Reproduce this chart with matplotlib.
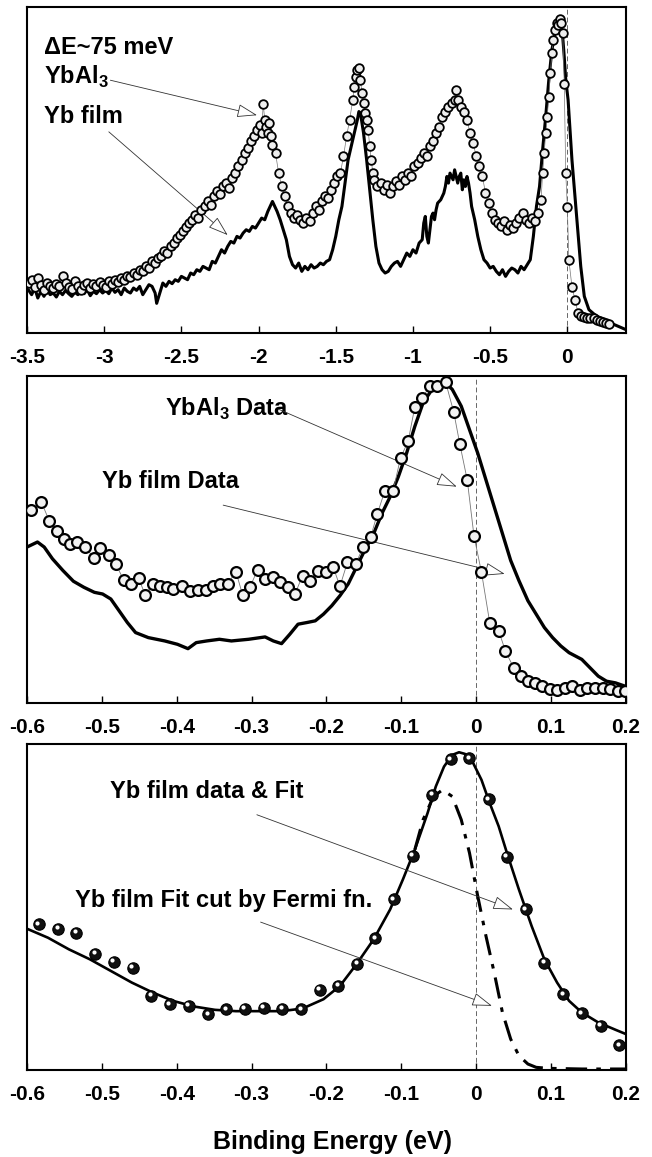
import numpy as np
import matplotlib
matplotlib.use("Agg")
import matplotlib.pyplot as plt
from matplotlib import font_manager
from matplotlib.transforms import offset_copy

# ---- top panel: wide range (eV, arbitrary counts)
top_ybal3_x = [-3.49, -3.47, -3.45, -3.43, -3.41, -3.39, -3.37, -3.35, -3.33, -3.31, -3.29, -3.27, -3.25, -3.23,
               -3.21, -3.19, -3.17, -3.15, -3.13, -3.11, -3.09, -3.07, -3.05, -3.03, -3.01, -2.99, -2.97, -2.95,
               -2.93, -2.91, -2.89, -2.87, -2.85, -2.83, -2.81, -2.79, -2.77, -2.75, -2.73, -2.71, -2.69, -2.67,
               -2.65, -2.63, -2.61, -2.59, -2.57, -2.55, -2.53, -2.51, -2.49, -2.47, -2.45, -2.43, -2.41, -2.39,
               -2.37, -2.35, -2.33, -2.31, -2.29, -2.27, -2.25, -2.23, -2.21, -2.19, -2.17, -2.15, -2.13, -2.11,
               -2.09, -2.07, -2.05, -2.03, -2.01, -1.99, -1.98, -1.97, -1.96, -1.95, -1.94, -1.93, -1.92, -1.91,
               -1.89, -1.87, -1.85, -1.83, -1.81, -1.79, -1.77, -1.75, -1.73, -1.71, -1.69, -1.67, -1.65, -1.63,
               -1.61, -1.59, -1.57, -1.55, -1.53, -1.51, -1.49, -1.47, -1.45, -1.43, -1.41, -1.39, -1.38, -1.37,
               -1.36, -1.35, -1.34, -1.33, -1.32, -1.31, -1.30, -1.29, -1.28, -1.27, -1.26, -1.25, -1.23, -1.21,
               -1.19, -1.17, -1.15, -1.13, -1.11, -1.09, -1.07, -1.05, -1.03, -1.01, -0.99, -0.97, -0.95, -0.93,
               -0.91, -0.89, -0.87, -0.85, -0.83, -0.81, -0.79, -0.77, -0.75, -0.73, -0.72, -0.71, -0.69, -0.67,
               -0.65, -0.63, -0.61, -0.59, -0.57, -0.55, -0.53, -0.51, -0.49, -0.47, -0.45, -0.43, -0.41, -0.39,
               -0.37, -0.35, -0.33, -0.31, -0.29, -0.27, -0.25, -0.23, -0.21, -0.19, -0.17, -0.16, -0.15, -0.14,
               -0.13, -0.12, -0.11, -0.10, -0.09, -0.08, -0.07, -0.06, -0.05, -0.04, -0.03, -0.02, -0.01, 0.00,
               0.01, 0.03, 0.05, 0.07, 0.09, 0.11, 0.13, 0.15, 0.17, 0.19, 0.21, 0.23, 0.25, 0.27]
top_ybal3_y = [150, 160, 138, 165, 145, 130, 150, 140, 135, 148, 142, 170, 150, 138,
               132, 155, 140, 128, 145, 150, 135, 148, 140, 152, 145, 138, 155, 148,
               160, 152, 165, 158, 172, 168, 180, 175, 190, 185, 200, 195, 215, 210,
               225, 232, 245, 240, 262, 270, 285, 295, 305, 318, 330, 340, 355, 345,
               370, 380, 395, 385, 410, 425, 418, 440, 450, 435, 465, 480, 500, 520,
               540, 555, 575, 590, 610, 625, 600, 689, 640, 620, 600, 630, 590, 565,
               540, 480, 440, 410, 380, 360, 345, 355, 340, 330, 345, 335, 360, 380,
               370, 395, 410, 405, 430, 450, 470, 480, 530, 590, 640, 700, 740, 770,
               790, 795, 760, 720, 690, 660, 640, 610, 560, 520, 480, 460, 440, 450,
               430, 445, 420, 440, 455, 445, 470, 460, 480, 470, 500, 510, 525, 540,
               530, 560, 575, 600, 620, 650, 665, 680, 690, 700, 729, 700, 680, 665,
               640, 600, 570, 530, 500, 470, 420, 390, 360, 340, 330, 320, 335, 310,
               325, 315, 330, 345, 360, 340, 330, 345, 335, 360, 400, 480, 540, 600,
               650, 710, 780, 840, 880, 910, 930, 925, 944, 930, 900, 749, 479, 379,
               219, 139, 99, 59, 50, 49, 45, 44, 44, 40, 35, 32, 30, 28]

top_film_x = [-3.49, -3.47, -3.45, -3.43, -3.41, -3.39, -3.37, -3.35, -3.33, -3.31, -3.29, -3.27, -3.25, -3.23,
              -3.21, -3.19, -3.17, -3.15, -3.13, -3.11, -3.09, -3.07, -3.05, -3.03, -3.01, -2.99, -2.97, -2.95,
              -2.93, -2.91, -2.89, -2.87, -2.85, -2.83, -2.81, -2.79, -2.77, -2.75, -2.73, -2.71, -2.69, -2.67,
              -2.66, -2.64, -2.62, -2.60, -2.58, -2.56, -2.54, -2.52, -2.50, -2.48, -2.46, -2.44, -2.42, -2.40,
              -2.38, -2.36, -2.34, -2.32, -2.30, -2.28, -2.26, -2.24, -2.22, -2.20, -2.18, -2.16, -2.14, -2.12,
              -2.10, -2.08, -2.06, -2.04, -2.02, -2.00, -1.98, -1.96, -1.94, -1.92, -1.91, -1.90, -1.88, -1.86,
              -1.84, -1.82, -1.80, -1.78, -1.76, -1.74, -1.72, -1.70, -1.68, -1.66, -1.64, -1.62, -1.60, -1.58,
              -1.56, -1.54, -1.52, -1.50, -1.48, -1.46, -1.44, -1.42, -1.40, -1.38, -1.36, -1.35, -1.34, -1.33,
              -1.32, -1.30, -1.28, -1.26, -1.24, -1.22, -1.20, -1.18, -1.16, -1.14, -1.12, -1.10, -1.08, -1.06,
              -1.04, -1.02, -1.00, -0.98, -0.96, -0.94, -0.93, -0.92, -0.91, -0.90, -0.89, -0.88, -0.87, -0.86,
              -0.85, -0.84, -0.82, -0.80, -0.79, -0.78, -0.77, -0.76, -0.75, -0.74, -0.73, -0.72, -0.71, -0.70,
              -0.69, -0.68, -0.67, -0.66, -0.65, -0.64, -0.63, -0.62, -0.60, -0.58, -0.56, -0.54, -0.52, -0.50,
              -0.48, -0.46, -0.44, -0.42, -0.40, -0.38, -0.36, -0.34, -0.32, -0.30, -0.28, -0.26, -0.24, -0.22,
              -0.20, -0.18, -0.16, -0.14, -0.12, -0.10, -0.08, -0.06, -0.05, -0.04, -0.03, -0.02, -0.01, 0.005,
              0.03, 0.06, 0.087, 0.11, 0.14, 0.19, 0.24, 0.28, 0.33, 0.38]
top_film_y = [129, 115, 135, 105, 125, 110, 130, 115, 120, 108, 125, 115, 128, 118,
              110, 122, 115, 125, 118, 130, 112, 125, 118, 130, 120, 128, 118, 135,
              122, 130, 115, 135, 125, 120, 135, 128, 140, 115, 130, 145, 140, 120,
              89, 120, 150, 140, 155, 148, 160, 155, 170, 165, 160, 180, 175, 190,
              185, 200, 195, 190, 215, 210, 230, 250, 240, 260, 275, 270, 290, 285,
              300, 310, 305, 320, 315, 330, 345, 340, 365, 385, 395, 385, 365, 340,
              310, 280, 230, 205, 195, 210, 185, 200, 190, 205, 195, 200, 210, 205,
              215, 220, 250, 290, 340, 380, 450, 520, 560, 600, 640, 665, 660, 630,
              600, 520, 430, 340, 260, 210, 190, 180, 185, 200, 210, 215, 200, 220,
              240, 230, 250, 240, 270, 280, 330, 350, 290, 270, 310, 350, 360, 340,
              370, 390, 400, 420, 440, 470, 450, 480, 470, 460, 490, 470, 450, 470,
              480, 430, 460, 440, 470, 450, 420, 380, 340, 290, 250, 220, 210, 195,
              200, 185, 175, 190, 170, 185, 195, 190, 180, 200, 190, 205, 220, 290,
              380, 440, 550, 650, 760, 850, 900, 935, 940, 925, 890, 830, 760, 700,
              520, 350, 200, 110, 70, 50, 40, 30, 20, 10]

# ---- middle panel: near E_F
mid_ybal3_x = [-0.594, -0.581, -0.570, -0.560, -0.551, -0.543, -0.533, -0.522, -0.511, -0.502, -0.491, -0.481,
               -0.471, -0.461, -0.451, -0.442, -0.432, -0.422, -0.413, -0.405, -0.393, -0.382, -0.372, -0.361,
               -0.352, -0.342, -0.332, -0.321, -0.312, -0.302, -0.292, -0.282, -0.272, -0.262, -0.252, -0.242,
               -0.232, -0.222, -0.211, -0.201, -0.191, -0.182, -0.172, -0.161, -0.151, -0.141, -0.132, -0.122,
               -0.111, -0.101, -0.091, -0.082, -0.072, -0.062, -0.052, -0.041, -0.030, -0.022, -0.012, -0.003,
               0.007, 0.018, 0.030, 0.039, 0.050, 0.060, 0.069, 0.079, 0.088, 0.098, 0.108, 0.118,
               0.128, 0.138, 0.148, 0.159, 0.169, 0.179, 0.189, 0.199]
mid_ybal3_y = [575, 600, 542, 513, 490, 475, 480, 465, 433, 462, 440, 413,
               367, 355, 372, 322, 355, 348, 345, 340, 350, 335, 337, 337,
               350, 355, 355, 392, 322, 347, 397, 370, 377, 360, 345, 325,
               380, 365, 395, 390, 405, 348, 420, 415, 465, 495, 565, 633,
               633, 732, 780, 883, 910, 945, 945, 958, 867, 773, 665, 498,
               390, 240, 215, 155, 105, 80, 65, 60, 50, 42, 40, 45,
               50, 40, 45, 45, 45, 42, 37, 35]

mid_film_x = [-0.600, -0.586, -0.577, -0.566, -0.552, -0.538, -0.524, -0.510, -0.499, -0.488, -0.477, -0.466,
              -0.455, -0.438, -0.416, -0.399, -0.385, -0.374, -0.360, -0.343, -0.327, -0.304, -0.282, -0.271,
              -0.260, -0.249, -0.238, -0.226, -0.215, -0.204, -0.193, -0.182, -0.171, -0.160, -0.149, -0.137,
              -0.126, -0.115, -0.104, -0.093, -0.082, -0.071, -0.059, -0.048, -0.040, -0.032, -0.020, -0.009,
              0.002, 0.013, 0.024, 0.035, 0.046, 0.057, 0.069, 0.080, 0.091, 0.102, 0.113, 0.124,
              0.141, 0.152, 0.163, 0.174, 0.186, 0.199]
mid_film_y = [465, 480, 465, 430, 395, 363, 345, 330, 325, 310, 275, 240,
              210, 195, 185, 175, 162, 180, 185, 190, 185, 190, 197, 185,
              177, 205, 235, 240, 245, 265, 290, 320, 355, 405, 455, 505,
              565, 615, 675, 745, 825, 895, 935, 950, 953, 935, 885, 815,
              745, 665, 585, 505, 425, 365, 305, 265, 225, 195, 170, 150,
              130, 105, 80, 65, 60, 50]

# ---- bottom panel: Yb film data, fit and fit cut by Fermi function
bot_data_x = [-0.584, -0.558, -0.534, -0.509, -0.484, -0.459, -0.434, -0.409, -0.384, -0.358, -0.334, -0.309,
              -0.284, -0.259, -0.234, -0.209, -0.184, -0.159, -0.135, -0.110, -0.085, -0.059, -0.034, -0.009,
              0.017, 0.041, 0.066, 0.091, 0.116, 0.141, 0.166, 0.191]
bot_data_y = [435, 422, 410, 347, 322, 305, 220, 195, 190, 165, 180, 182,
              185, 182, 180, 238, 250, 317, 393, 510, 642, 825, 932, 935,
              812, 638, 480, 320, 225, 168, 130, 72]

bot_fit_x = [-0.600, -0.572, -0.544, -0.516, -0.488, -0.460, -0.432, -0.405, -0.377, -0.349, -0.321, -0.293,
             -0.260, -0.232, -0.204, -0.182, -0.160, -0.137, -0.115, -0.098, -0.082, -0.065, -0.054, -0.043,
             -0.032, -0.023, -0.015, -0.004, 0.007, 0.018, 0.030, 0.041, 0.057, 0.074, 0.091, 0.108,
             0.124, 0.141, 0.163, 0.186, 0.200]
bot_fit_y = [422, 395, 360, 330, 295, 260, 230, 205, 188, 178, 174, 174,
             174, 182, 210, 250, 315, 390, 480, 570, 660, 770, 850, 910,
             945, 953, 948, 920, 870, 800, 730, 650, 540, 430, 330, 260,
             205, 170, 140, 118, 105]

bot_cut_x = [-0.082, -0.071, -0.057, -0.045, -0.032, -0.020, -0.009, 0.002, 0.013, 0.024, 0.035, 0.046,
             0.057, 0.069, 0.080, 0.096, 0.141, 0.200]
bot_cut_y = [660, 750, 820, 840, 820, 750, 650, 520, 400, 290, 170, 90,
             40, 15, 5, 2, 0, 0]

avail = {f.name for f in font_manager.fontManager.ttflist}
txt_font = 'Liberation Sans Narrow' if 'Liberation Sans Narrow' in avail else 'Liberation Sans'
plt.rcParams['font.family'] = ['Liberation Sans', 'DejaVu Sans']
plt.rcParams['mathtext.fontset'] = 'custom'
plt.rcParams['mathtext.bf'] = txt_font + ':bold'
plt.rcParams['mathtext.rm'] = txt_font + ':bold'

fig = plt.figure(figsize=(6.52, 11.57), dpi=100)
ax1 = fig.add_axes([0.0414, 0.7122, 0.9187, 0.2818])
ax2 = fig.add_axes([0.0414, 0.3924, 0.9187, 0.2826])
ax3 = fig.add_axes([0.0414, 0.0752, 0.9187, 0.2818])

arrow_kw = dict(arrowstyle='-|>,head_length=0.9,head_width=0.3', fc='white', ec='#333333',
                lw=0.6, mutation_scale=14, shrinkA=0, shrinkB=0)
lab_kw = dict(fontsize=17, fontweight='bold', family=[txt_font, 'DejaVu Sans'], va='center')

for ax in (ax1, ax2, ax3):
    for s in ax.spines.values():
        s.set_linewidth(1.5)
    ax.set_yticks([])
    ax.tick_params(axis='x', direction='in', length=5, width=1, pad=11, labelsize=15)
    ax.axvline(0, color='#666666', lw=0.7, ls=(0, (5, 3)), zorder=1)

# top panel
ax1.plot(top_film_x, top_film_y, color='black', lw=2.2, zorder=2)
ax1.plot(top_ybal3_x, top_ybal3_y, color='#777777', lw=0.5, zorder=3)
ax1.plot(top_ybal3_x, top_ybal3_y, 'o', ms=6.2, mfc='#eeeeee', mec='black', mew=1.3, zorder=4)
ax1.set_xlim(-3.5, 0.38)
ax1.set_ylim(0, 979)
ax1.set_xticks(np.arange(-3.5, 0.01, 0.5))
ax1.set_xticklabels(['-3.5', '-3', '-2.5', '-2', '-1.5', '-1', '-0.5', '0'], fontweight='bold')
ax1.text(0.028, 0.877, '\u0394E~75 meV', transform=ax1.transAxes, **lab_kw)
ax1.text(0.028, 0.785, r'YbAl$_{\mathbf{3}}$', transform=ax1.transAxes, **lab_kw)
ax1.text(0.028, 0.663, 'Yb film', transform=ax1.transAxes, **lab_kw)
ax1.annotate('', xy=(-2.01, 654), xytext=(-2.96, 759), arrowprops=arrow_kw)
ax1.annotate('', xy=(-2.20, 294), xytext=(-2.97, 604), arrowprops=arrow_kw)

# middle panel
ax2.plot(mid_film_x, mid_film_y, color='black', lw=2.4, zorder=2)
ax2.plot(mid_ybal3_x, mid_ybal3_y, color='#777777', lw=0.6, zorder=3)
ax2.plot(mid_ybal3_x, mid_ybal3_y, 'o', ms=7.8, mfc='#f2f2f2', mec='black', mew=1.6, zorder=4)
ax2.set_xlim(-0.6, 0.2)
ax2.set_ylim(0, 975)
ax2.set_xticks(np.round(np.arange(-0.6, 0.21, 0.1), 1))
ax2.set_xticklabels(['-0.6', '-0.5', '-0.4', '-0.3', '-0.2', '-0.1', '0', '0.1', '0.2'], fontweight='bold')
ax2.text(0.230, 0.899, r'YbAl$_{\mathbf{3}}$ Data', transform=ax2.transAxes, **lab_kw)
ax2.text(0.125, 0.678, 'Yb film Data', transform=ax2.transAxes, **lab_kw)
ax2.annotate('', xy=(-0.026, 645), xytext=(-0.263, 875), arrowprops=arrow_kw)
ax2.annotate('', xy=(0.038, 385), xytext=(-0.338, 590), arrowprops=arrow_kw)

# bottom panel
ax3.plot(bot_fit_x, bot_fit_y, color='black', lw=1.9, zorder=2)
ax3.plot(bot_cut_x, bot_cut_y, color='black', lw=2.2, ls=(0, (7, 3, 1.5, 3)), zorder=2)
ax3.plot(bot_data_x, bot_data_y, 'o', ms=8.2, mfc='#111111', mec='black', mew=0.8, zorder=4)
hl = offset_copy(ax3.transData, fig=fig, x=-1.1, y=1.1, units='points')
ax3.plot(bot_data_x, bot_data_y, 'o', ms=3.0, mfc='white', mec='none', transform=hl, zorder=5)
ax3.set_xlim(-0.6, 0.2)
ax3.set_ylim(-3, 978)
ax3.set_xticks(np.round(np.arange(-0.6, 0.21, 0.1), 1))
ax3.set_xticklabels(['-0.6', '-0.5', '-0.4', '-0.3', '-0.2', '-0.1', '0', '0.1', '0.2'], fontweight='bold')
ax3.text(0.139, 0.853, 'Yb film data & Fit', transform=ax3.transAxes, **lab_kw)
ax3.text(0.080, 0.521, 'Yb film Fit cut by Fermi fn.', transform=ax3.transAxes, **lab_kw)
ax3.annotate('', xy=(0.049, 480), xytext=(-0.293, 765), arrowprops=arrow_kw)
ax3.annotate('', xy=(0.021, 190), xytext=(-0.288, 442), arrowprops=arrow_kw)

fig.text(0.51, 0.013, 'Binding Energy (eV)', ha='center', va='center', fontsize=18,
         fontweight='bold', family=[txt_font, 'DejaVu Sans'])

fig.savefig('out.png', dpi=100)
